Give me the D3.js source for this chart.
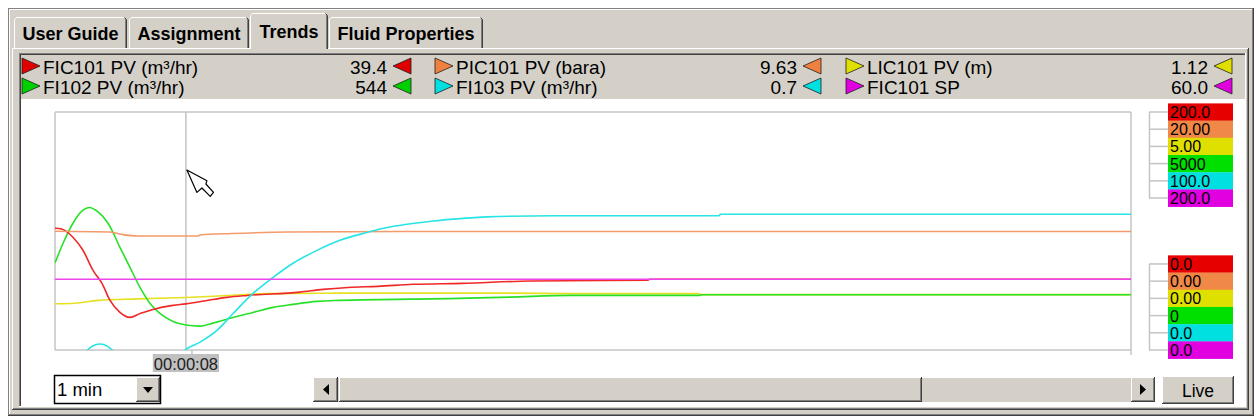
<!DOCTYPE html>
<html><head><meta charset="utf-8">
<script src="https://cdn.jsdelivr.net/npm/d3@7"></script>
<style>
html,body{margin:0;padding:0;background:#fff;}
svg{display:block;font-family:"Liberation Sans",Arial,sans-serif;}
</style></head><body>
<svg id="c" width="1256" height="419"></svg>
<script>
// ---------------- DATA ----------------
const tabs = ["User Guide", "Assignment", "Trends", "Fluid Properties"];
const activeTab = "Trends";

// legend order (row-major, 3 columns)
const seriesNames = ["FIC101 PV (m³/hr)", "PIC101 PV (bara)", "LIC101 PV (m)", "FI102 PV (m³/hr)", "FI103 PV (m³/hr)", "FIC101 SP"];
const cursorValues = ["39.4", "9.63", "1.12", "544", "0.7", "60.0"];
const scaleMax = [200, 20, 5, 5000, 100, 200];
const scaleMaxLabels = ["200.0", "20.00", "5.00", "5000", "100.0", "200.0"];
const scaleMinLabels = ["0.0", "0.00", "0.00", "0", "0.0", "0.0"];
const seriesColors = ["#f02828", "#f59a6a", "#e6e020", "#28e028", "#28e4e4", "#ee44ee"];
const markerColors = ["#e00000", "#f08040", "#e0e000", "#00d000", "#00e0e0", "#e000e0"];
const boxColors = ["#e60000", "#f08848", "#e0e000", "#00e000", "#00e0e0", "#e000e0"];

// time window (seconds)
const windowStart = 0.7;
const windowLength = 60;      // "1 min"
const cursorTime = 8;         // 00:00:08
const timeRangeLabel = "1 min";
const liveLabel = "Live";

// series samples: [time s, value]
const fic101pv = [[0.7,102.7],[1.07,102.1],[1.70,95.2],[2.26,84.3],[2.82,67.5],[3.32,56.6],[3.77,42.3],[4.32,32.3],[4.88,28.1],[5.44,31.4],[6.16,34.8],[7.28,38.2],[8.0,39.4],[9.18,42.3],[10.29,44.9],[11.41,46.5],[14.36,49.3],[15.64,51.6],[17.04,53.2],[18.71,54.1],[20.66,55.8],[23.39,56.6],[27.19,58.6],[33.77,59.2],[33.85,60],[60.7,60]];
const pic101pv = [[0.7,10.02],[3.77,9.96],[4.49,9.74],[5.33,9.62],[8.67,9.62],[8.79,9.71],[10.57,9.83],[13.69,9.96],[20.0,10.0],[60.7,10.0]];
const lic101pv = [[0.7,0.99],[1.82,1.00],[3.10,1.06],[5.27,1.09],[8.0,1.12],[10.29,1.16],[12.52,1.20],[16.59,1.21],[26.07,1.21],[29.53,1.20],[36.6,1.20],[36.7,1.18],[60.7,1.18]];
const fi102pv = [[0.7,1840],[1.15,2254],[1.70,2673],[2.26,2945],[2.60,3002],[3.10,2910],[3.66,2673],[4.32,2170],[4.88,1751],[5.44,1331],[6.00,996],[6.55,786],[7.28,618],[8.0,544],[8.79,520],[9.51,583],[10.63,702],[11.74,807],[12.86,912],[13.97,975],[15.31,1038],[16.59,1059],[23.17,1101],[26.07,1128],[29.53,1164],[36.67,1164],[36.75,1178],[60.7,1178]];
const fi103pv = [[0.7,-12],[1.6,-5],[2.45,0],[2.8,2.1],[3.21,2.9],[3.6,2.1],[3.95,0],[5.0,-6],[6.5,-6],[7.6,-2],[8.0,0.7],[8.79,3.7],[9.73,8.6],[10.63,15.7],[11.74,24.1],[12.86,30.8],[13.97,36.7],[15.31,42.1],[16.59,46.3],[18.10,49.6],[19.21,51.7],[20.33,53.0],[21.78,54.4],[23.12,55.3],[24.79,56.1],[28.58,56.6],[37.73,56.6],[37.8,57.2],[60.7,57.2]];
const fic101sp = [[0.7,60],[60.7,60]];
const seriesData = [fic101pv, pic101pv, lic101pv, fi102pv, fi103pv, fic101sp];
const drawOrder = [2, 3, 0, 1, 4, 5];

// ---------------- LAYOUT ----------------
const W = 1256, H = 419;
const P = {x0: 55, x1: 1131, y0: 112, y1: 350};
const GRAY = "#d4d0c8", LINE = "#c4c4c4";
const svg = d3.select("#c");

function L(g, x1, y1, x2, y2, c, w) {
  return g.append("line").attr("x1", x1).attr("y1", y1).attr("x2", x2).attr("y2", y2)
    .attr("stroke", c).attr("stroke-width", w || 1);
}
function bevel(parent, x, y, w, h) {
  const g = parent.append("g");
  g.append("rect").attr("x", x).attr("y", y).attr("width", w).attr("height", h).attr("fill", GRAY);
  L(g, x + 0.5, y + 0.5, x + w - 1, y + 0.5, "#ffffff");
  L(g, x + 0.5, y + 0.5, x + 0.5, y + h - 1, "#ffffff");
  L(g, x + w - 0.5, y, x + w - 0.5, y + h, "#404040");
  L(g, x, y + h - 0.5, x + w, y + h - 0.5, "#404040");
  L(g, x + w - 1.5, y + 1, x + w - 1.5, y + h - 1, "#808080");
  L(g, x + 1, y + h - 1.5, x + w - 1, y + h - 1.5, "#808080");
  return g;
}

// window frame
svg.append("rect").attr("width", W).attr("height", H).attr("fill", "#ffffff");
svg.append("rect").attr("x", 8).attr("y", 8).attr("width", 1246).attr("height", 408).attr("fill", GRAY);
L(svg, 8, 8.5, 1254, 8.5, "#808080"); L(svg, 8.5, 8, 8.5, 416, "#808080");
L(svg, 9, 9.5, 1253, 9.5, "#ffffff"); L(svg, 9.5, 9, 9.5, 415, "#ffffff");
L(svg, 1253.5, 8, 1253.5, 416, "#404040"); L(svg, 8, 415.5, 1254, 415.5, "#404040");
L(svg, 1252.5, 9, 1252.5, 415, "#808080"); L(svg, 9, 414.5, 1253, 414.5, "#808080");

// tab panel
const panel = {x0: 12, x1: 1249, y0: 48, y1: 410};
L(svg, panel.x0 + 0.5, panel.y0, panel.x0 + 0.5, panel.y1, "#ffffff");
L(svg, panel.x1 - 0.5, panel.y0, panel.x1 - 0.5, panel.y1, "#404040");
L(svg, panel.x1 - 1.5, panel.y0 + 1, panel.x1 - 1.5, panel.y1 - 1, "#808080");
L(svg, panel.x0, panel.y1 - 0.5, panel.x1, panel.y1 - 0.5, "#404040");
L(svg, panel.x0 + 1, panel.y1 - 1.5, panel.x1 - 1, panel.y1 - 1.5, "#808080");

// tabs
const tabG = svg.append("g");
let tx = 14;
const tabBoxes = [];
tabs.forEach((t, i) => {
  const tmp = tabG.append("text").attr("font-size", 18).attr("font-weight", "bold").text(t);
  const tw = tmp.node().getComputedTextLength();
  tmp.remove();
  const w = Math.round(tw + 17);
  const active = t === activeTab;
  const x = active ? tx - 1 : tx;
  const ww = active ? w + 2 : w;
  tabBoxes.push({t, x, w: ww, active, tw});
  tx += w + 2;
});
const act = tabBoxes.find(d => d.active);
L(svg, panel.x0, panel.y0 + 0.5, act.x, panel.y0 + 0.5, "#ffffff");
L(svg, act.x + act.w, panel.y0 + 0.5, panel.x1 - 1, panel.y0 + 0.5, "#ffffff");
tabBoxes.forEach(d => {
  const top = d.active ? 13 : 17;
  const bottom = d.active ? 49 : 48;
  const g = tabG.append("g");
  g.append("rect").attr("x", d.x).attr("y", top).attr("width", d.w).attr("height", bottom - top).attr("fill", GRAY);
  g.append("path").attr("d", `M${d.x + 0.5},${bottom} V${top + 2.5} L${d.x + 2.5},${top + 0.5} H${d.x + d.w - 2.5}`)
    .attr("fill", "none").attr("stroke", "#ffffff");
  g.append("path").attr("d", `M${d.x + d.w - 2.5},${top + 0.5} L${d.x + d.w - 0.5},${top + 2.5} V${bottom}`)
    .attr("fill", "none").attr("stroke", "#404040");
  L(g, d.x + d.w - 1.5, top + 2, d.x + d.w - 1.5, bottom, "#808080");
  g.append("text").attr("x", d.x + (d.w - d.tw) / 2).attr("y", d.active ? 37.5 : 39.5)
    .attr("font-size", 18).attr("font-weight", "bold").attr("fill", "#000").text(d.t);
});

// inner component (sunken)
const comp = {x0: 19, x1: 1246, y0: 53, y1: 407};
svg.append("rect").attr("x", comp.x0 + 2).attr("y", 99).attr("width", comp.x1 - comp.x0 - 3).attr("height", comp.y1 - 99 - 1).attr("fill", "#ffffff");
L(svg, comp.x0, comp.y0 + 0.5, comp.x1, comp.y0 + 0.5, "#808080");
L(svg, comp.x0 + 0.5, comp.y0, comp.x0 + 0.5, comp.y1, "#808080");
L(svg, comp.x0 + 1, comp.y0 + 1.5, comp.x1 - 1, comp.y0 + 1.5, "#404040");
L(svg, comp.x0 + 1.5, comp.y0 + 1, comp.x0 + 1.5, comp.y1 - 1, "#404040");
L(svg, comp.x1 - 0.5, comp.y0, comp.x1 - 0.5, comp.y1, "#ffffff");
L(svg, comp.x0, comp.y1 - 0.5, comp.x1, comp.y1 - 0.5, "#ffffff");

// ---------------- LEGEND ----------------
const colX = [22, 435, 846];
const valueRight = [387, 797, 1208];
const rowBase = [74, 94];
const leg = svg.append("g");
seriesNames.forEach((name, i) => {
  const c = i % 3, r = Math.floor(i / 3);
  const cy = rowBase[r] - 8;
  const x = colX[c];
  leg.append("path").attr("d", `M${x},${cy - 8} L${x + 18},${cy} L${x},${cy + 8} Z`)
    .attr("fill", markerColors[i]).attr("stroke", "#202020").attr("stroke-width", 0.8);
  leg.append("text").attr("x", x + 21).attr("y", rowBase[r]).attr("font-size", 19).attr("fill", "#000").text(name);
  leg.append("text").attr("x", valueRight[c]).attr("y", rowBase[r]).attr("font-size", 19)
    .attr("text-anchor", "end").attr("fill", "#000").text(cursorValues[i]);
  const vx = valueRight[c] + 6;
  leg.append("path").attr("d", `M${vx + 18},${cy - 8} L${vx},${cy} L${vx + 18},${cy + 8} Z`)
    .attr("fill", markerColors[i]).attr("stroke", "#202020").attr("stroke-width", 0.8);
});

// ---------------- PLOT ----------------
const x = d3.scaleLinear().domain([windowStart, windowStart + windowLength]).range([P.x0, P.x1]);
const yScales = scaleMax.map(m => d3.scaleLinear().domain([0, m]).range([351, 112]));

svg.append("defs").append("clipPath").attr("id", "clip")
  .append("rect").attr("x", P.x0).attr("y", P.y0).attr("width", P.x1 - P.x0).attr("height", P.y1 - P.y0);

const frame = svg.append("g");
L(frame, P.x0, P.y0, P.x1, P.y0, LINE, 1.5);
L(frame, P.x0, P.y1, P.x1, P.y1, LINE, 1.5);
L(frame, P.x0, P.y0, P.x0, P.y1, LINE, 1.5);
L(frame, P.x1, P.y0, P.x1, P.y1 + 5, LINE, 1.5);

const cx = x(cursorTime);
L(frame, cx, P.y0, cx, P.y1, LINE, 1.5);
L(frame, cx + 6, P.y1, cx + 6, P.y1 + 5, LINE, 1.5);

const linesG = svg.append("g").attr("clip-path", "url(#clip)");
drawOrder.forEach(i => {
  const line = d3.line().x(d => x(d[0])).y(d => yScales[i](d[1])).curve(d3.curveMonotoneX);
  linesG.append("path").datum(seriesData[i]).attr("d", line)
    .attr("fill", "none").attr("stroke", seriesColors[i]).attr("stroke-width", 1.6);
});

// cursor time label
const fmt = d3.utcFormat("%H:%M:%S");
const lblText = fmt(new Date(cursorTime * 1000));
const lbl = svg.append("g");
const lt = lbl.append("text").attr("font-size", 16.5).attr("fill", "#202020").text(lblText);
const lw = lt.node().getComputedTextLength();
lt.attr("x", cx - lw / 2).attr("y", 370);
lbl.insert("rect", "text").attr("x", cx - lw / 2 - 1).attr("y", 354).attr("width", lw + 2).attr("height", 18).attr("fill", "#c0c0c0");

// mouse pointer decoration
const mp = [[0,0],[20,10.7],[19,14],[26.6,22.4],[23.3,26.4],[15,18],[10,22.4]];
svg.append("path").attr("d", "M" + mp.map(p => [cx + 1 + p[0], 170 + p[1]].join(",")).join("L") + "Z")
  .attr("fill", "#ffffff").attr("stroke", "#000").attr("stroke-width", 1.2).attr("stroke-linejoin", "round");

// ---------------- RIGHT SCALES ----------------
const nS = scaleMax.length;
const step = (P.y1 - P.y0) / 13.83;
const topCenters = d3.range(nS).map(i => P.y0 + i * step);
const botCenters = d3.range(nS).map(i => P.y1 - (nS - 1 - i) * step);
function scaleGroup(centers, labels) {
  const g = svg.append("g");
  L(g, 1149.5, centers[0], 1149.5, centers[nS - 1], LINE, 1.5);
  centers.forEach((cy, i) => {
    L(g, 1149, cy, 1168, cy, LINE, 1.5);
    g.append("rect").attr("x", 1168).attr("y", cy - step / 2).attr("width", 65).attr("height", step + 0.3).attr("fill", boxColors[i]);
    g.append("text").attr("x", 1170).attr("y", cy + 6).attr("font-size", 16).attr("fill", "#000").text(labels[i]);
  });
}
scaleGroup(topCenters, scaleMaxLabels);
scaleGroup(botCenters, scaleMinLabels);

// ---------------- BOTTOM CONTROLS ----------------
const cb = svg.append("g");
cb.append("rect").attr("x", 54.5).attr("y", 375.5).attr("width", 106).attr("height", 28).attr("fill", "#fff").attr("stroke", "#000").attr("stroke-width", 1.5);
cb.append("text").attr("x", 57).attr("y", 396).attr("font-size", 18.5).attr("fill", "#000").text(timeRangeLabel);
bevel(cb, 136, 377, 24, 25);
cb.append("path").attr("d", "M143,387 L153,387 L148,393 Z").attr("fill", "#000");

const sb = svg.append("g");
sb.append("rect").attr("x", 313).attr("y", 377).attr("width", 842).attr("height", 25).attr("fill", GRAY);
L(sb, 313, 377.5, 1155, 377.5, "#ffffff");
bevel(sb, 313, 377, 25, 25);
sb.append("path").attr("d", "M323,389.5 L329,384 L329,395 Z").attr("fill", "#000");
bevel(sb, 339, 377, 583, 25);
bevel(sb, 1131, 377, 24, 25);
sb.append("path").attr("d", "M1146,389.5 L1140,384 L1140,395 Z").attr("fill", "#000");

const lb = bevel(svg, 1162, 376, 72, 28);
lb.append("text").attr("x", 1198).attr("y", 397).attr("text-anchor", "middle").attr("font-size", 17.5).attr("fill", "#000").text(liveLabel);
</script>
</body></html>
